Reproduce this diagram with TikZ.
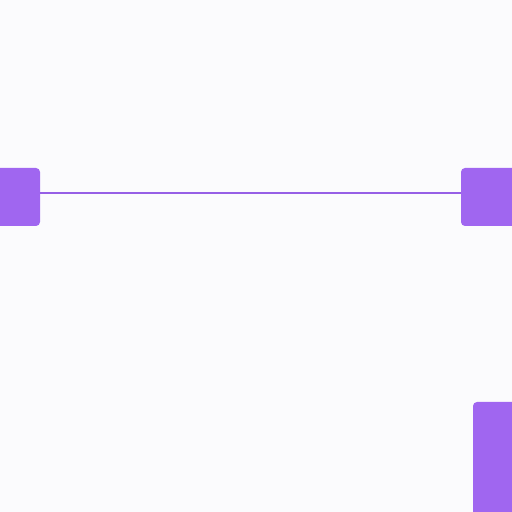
\documentclass[tikz,border=0pt]{standalone}
\definecolor{bg}{RGB}{251,251,253}
\definecolor{boxpurple}{RGB}{160,102,240}
\definecolor{linepurple}{RGB}{150,95,230}
\begin{document}
\begin{tikzpicture}[x=1pt,y=1pt,
  pbox/.style={fill=boxpurple,draw=none,rounded corners=4pt,inner sep=0pt,anchor=center},
  conn/.style={draw=linepurple,line width=1.6pt}]
\fill[bg] (0,0) rectangle (512,512);
\useasboundingbox (0,0) rectangle (512,512);
\node[pbox,minimum width=60pt,minimum height=58pt] (a) at (10,315) {};
\node[pbox,minimum width=70pt,minimum height=58pt] (b) at (496,315) {};
\node[pbox,minimum width=60pt,minimum height=140pt] (c) at (503,40) {};
\draw[conn] ([yshift=4pt]a.east) -- ([yshift=4pt]b.west);
\end{tikzpicture}
\end{document}
